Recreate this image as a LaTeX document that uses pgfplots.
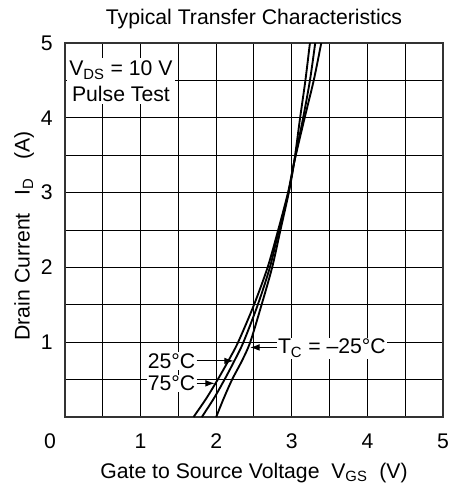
\documentclass[border=0pt]{standalone}
\usepackage{fontspec}
\setmainfont{Liberation Sans}
\usepackage{pgfplots}
\pgfplotsset{compat=1.18}
\usetikzlibrary{arrows.meta}

\begin{document}
\begin{tikzpicture}[font=\fontsize{15.9}{19}\selectfont]
\begin{axis}[
  scale only axis,
  width=283.5pt, height=280.5pt,
  xmin=0, xmax=5, ymin=0, ymax=5,
  xtick={1,2,3,4,5}, ytick={1,2,3,4,5},
  minor xtick={0,0.5,...,5}, minor ytick={0,0.5,...,5},
  grid=both,
  major grid style={black, line width=0.75pt},
  minor grid style={black, line width=0.75pt},
  major tick length=0pt, minor tick length=0pt,
  axis line style={line width=1pt, black!80},
  /pgf/number format/assume math mode=true,
  xticklabel style={anchor=base, inner sep=0pt, yshift=-23.5pt},
  yticklabel style={anchor=east, inner sep=0pt, xshift=-9pt},
  title={Typical Transfer Characteristics},
  title style={at={(axis description cs:0.5,1)}, anchor=base, inner sep=0pt, yshift=8pt},
  xlabel={Gate to Source Voltage\ \ V\textsubscript{GS}\ \ (V)},
  xlabel style={at={(axis description cs:0.5,0)}, anchor=base, inner sep=0pt, yshift=-45.75pt},
  ylabel={Drain Current\hspace{0.85em}I\textsubscript{D}\hspace{0.85em}(A)},
  ylabel style={at={(axis description cs:0,0.484)}, anchor=base, inner sep=0pt, yshift=26.5pt},
  clip mode=individual,
]
% T_C = 75 C
\addplot[smooth, black, line width=1.4pt] coordinates {
  (1.70,0) (1.87,0.25) (2.02,0.5) (2.16,0.75) (2.29,1.0) (2.50,1.5)
  (2.68,2.0) (2.82,2.5) (2.95,3.0) (3.03,3.4) (3.17,4.0) (3.29,4.5)
  (3.39,5.0) (3.45,5.3)};
% T_C = 25 C
\addplot[smooth, black, line width=1.4pt] coordinates {
  (1.81,0) (1.97,0.25) (2.11,0.5) (2.24,0.75) (2.36,1.0) (2.55,1.5)
  (2.71,2.0) (2.83,2.5) (2.955,3.0) (3.03,3.4) (3.15,4.0) (3.24,4.5)
  (3.31,5.0) (3.35,5.3)};
% T_C = -25 C
\addplot[smooth, black, line width=1.4pt] coordinates {
  (2.00,0) (2.10,0.25) (2.21,0.5) (2.34,0.75) (2.45,1.0) (2.60,1.5)
  (2.74,2.0) (2.85,2.5) (2.96,3.0) (3.03,3.4) (3.11,4.0) (3.18,4.5)
  (3.24,5.0) (3.28,5.3)};

\coordinate (SW) at (rel axis cs:0,0);
\coordinate (NE) at (rel axis cs:1,1);

\node[fill=white, align=center, inner sep=2pt] at (axis cs:0.74,4.49)
  {V\textsubscript{DS} = 10 V\\Pulse Test};

\node[fill=white, inner sep=1pt] at (axis cs:1.41,0.75) {25°C};
\draw[line width=0.75pt, -{Latex[length=7pt,width=5pt]}] (axis cs:1.74,0.75) -- (axis cs:2.23,0.75);
\node[fill=white, inner sep=1pt] at (axis cs:1.41,0.45) {75°C};
\draw[line width=0.75pt, -{Latex[length=7pt,width=5pt]}] (axis cs:1.74,0.45) -- (axis cs:1.98,0.45);
\node[fill=white, inner sep=1pt] at (axis cs:3.53,0.92) {T\textsubscript{C} = –25°C};
\draw[line width=0.75pt, -{Latex[length=7pt,width=5pt]}] (axis cs:2.80,0.93) -- (axis cs:2.45,0.93);

\node[anchor=base, inner sep=0pt, xshift=-11.25pt, yshift=-23.5pt] at (rel axis cs:0,0) {0};
\end{axis}
\pgfresetboundingbox
\path[use as bounding box] ([xshift=-48.75pt,yshift=-53.25pt]SW) rectangle ([xshift=9.75pt,yshift=32.25pt]NE);
\end{tikzpicture}
\end{document}
